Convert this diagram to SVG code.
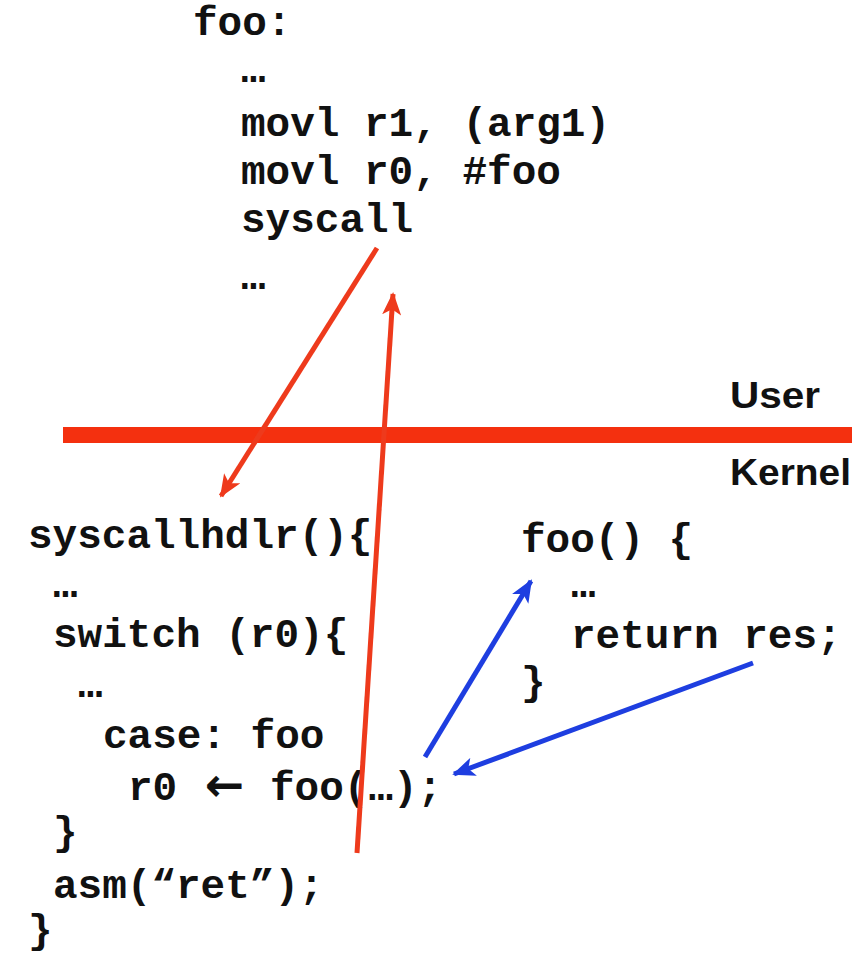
<svg xmlns="http://www.w3.org/2000/svg" width="861" height="954" viewBox="0 0 861 954">
<style>
.code{font-family:"Liberation Mono","Courier New",monospace;font-weight:bold;font-size:41px;fill:#111}
.lbl{font-family:"Liberation Sans",Arial,sans-serif;font-weight:bold;font-size:36px;fill:#111}
.red{stroke:#ee3a1c;stroke-width:5;fill:none;stroke-linecap:butt}
.blue{stroke:#1e3ee0;stroke-width:5;fill:none;stroke-linecap:butt}
</style>
<defs>
<marker id="ahRed" viewBox="0 0 12 10" refX="11" refY="5" markerWidth="4.6" markerHeight="3.8" orient="auto" markerUnits="strokeWidth">
<path d="M0,0 L12,5 L0,10 L3,5 z" fill="#ee3a1c"/>
</marker>
<marker id="ahBlue" viewBox="0 0 12 10" refX="11" refY="5" markerWidth="4.6" markerHeight="3.8" orient="auto" markerUnits="strokeWidth">
<path d="M0,0 L12,5 L0,10 L3,5 z" fill="#1e3ee0"/>
</marker>
</defs>
<rect width="861" height="954" fill="#ffffff"/>

<g id="user-code">
<text class="code" x="193" y="35">foo:</text>
<text class="code" x="241" y="82">…</text>
<text class="code" x="241" y="136">movl r1, (arg1)</text>
<text class="code" x="241" y="184">movl r0, #foo</text>
<text class="code" x="241" y="232">syscall</text>
<text class="code" x="241" y="289">…</text>
</g>

<g id="boundary">
<rect x="63" y="427" width="789" height="16" fill="#f4300f"/>
<text class="lbl" x="730" y="408" textLength="90" lengthAdjust="spacingAndGlyphs">User</text>
<text class="lbl" x="730" y="485" textLength="121" lengthAdjust="spacingAndGlyphs">Kernel</text>
</g>

<g id="syscallhdlr">
<text class="code" x="28" y="548">syscallhdlr(){</text>
<text class="code" x="53" y="597">…</text>
<text class="code" x="53" y="647">switch (r0){</text>
<text class="code" x="78" y="697">…</text>
<text class="code" x="103" y="748">case: foo</text>
<text class="code" x="128" y="800">r0</text>
<text x="205" y="801" style="font-family:'DejaVu Sans',sans-serif;font-weight:bold;font-size:47px;fill:#111">←</text>
<text class="code" x="270" y="800">foo(…);</text>
<text class="code" x="53" y="845">}</text>
<text class="code" x="53" y="898">asm(“ret”);</text>
<text class="code" x="28" y="943">}</text>
</g>

<g id="foo-func">
<text class="code" x="521" y="552">foo() {</text>
<text class="code" x="571" y="597">…</text>
<text class="code" x="571" y="648">return res;</text>
<text class="code" x="521" y="695">}</text>
</g>

<g id="connectors">
<line class="red" x1="377" y1="248" x2="221" y2="496" marker-end="url(#ahRed)"/>
<line class="red" x1="357" y1="853" x2="393" y2="294" marker-end="url(#ahRed)"/>
<line class="blue" x1="425" y1="757" x2="531" y2="581" marker-end="url(#ahBlue)"/>
<line class="blue" x1="753" y1="663" x2="454" y2="774" marker-end="url(#ahBlue)"/>
</g>
</svg>
